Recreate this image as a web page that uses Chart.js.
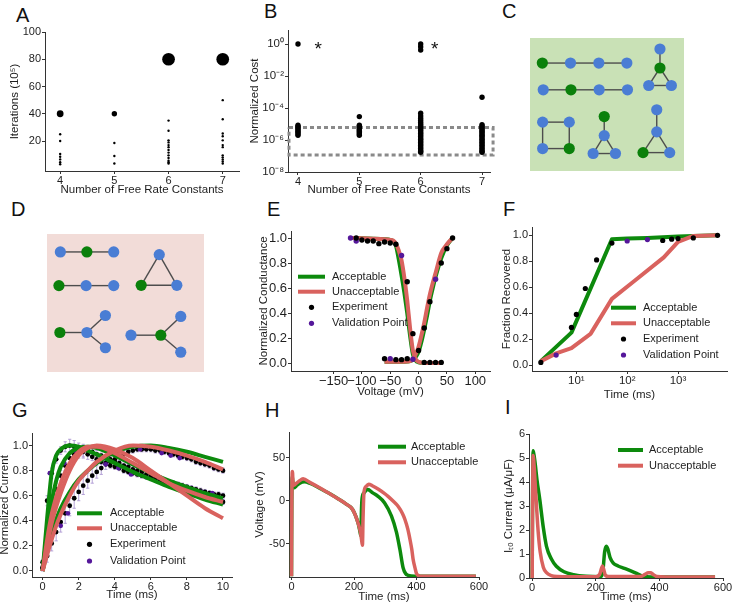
<!DOCTYPE html>
<html><head><meta charset="utf-8">
<script src="https://cdn.jsdelivr.net/npm/chart.js@4.4.1/dist/chart.umd.min.js"></script>
<style>
html,body{margin:0;padding:0;background:#fff;}
body{width:733px;height:605px;position:relative;overflow:hidden;font-family:'Liberation Sans',Arial,Helvetica,sans-serif;}
canvas{position:absolute;left:0;top:0;}
.lbl{position:absolute;font-size:20px;line-height:20px;color:#111;}
</style></head><body>
<div class="lbl" style="left:16px;top:5px">A</div>
<div class="lbl" style="left:264px;top:1px">B</div>
<div class="lbl" style="left:502px;top:1px">C</div>
<div class="lbl" style="left:11px;top:199px">D</div>
<div class="lbl" style="left:267px;top:199px">E</div>
<div class="lbl" style="left:503px;top:199px">F</div>
<div class="lbl" style="left:12px;top:400px">G</div>
<div class="lbl" style="left:265px;top:400px">H</div>
<div class="lbl" style="left:505px;top:397px">I</div>
<script>
// ---------------- DATA ----------------
// A: iterations (10^5) per number of free rate constants; runs = number of fits at that value
const A_rate_ticks = [4,5,6,7];
const A_iter_4 = [40,25,20,10.5,8.5,6.5,4.5,3];
const A_runs_4 = [8,1,1,1,1,1,1,1];
const A_iter_5 = [40,18.5,9,3.5];
const A_runs_5 = [5,1,1,1];
const A_iter_6 = [80,35,27.5,20.5,19,17,15.5,13.5,11.5,9.5,7.5,5.5,4.5,3.5];
const A_runs_6 = [28,1,1,1,1,1,1,1,1,1,1,1,1,1];
const A_iter_7 = [80,50,36,25.5,23.5,20.5,17,15.5,9.5,8,6.5,5,3.5];
const A_runs_7 = [28,1,1,1,1,1,1,1,1,1,1,1,1];
const A_y_ticks = [20,40,60,80,100];

// B: normalized cost
const B_cost_4 = [1.0,8.5e-6,7e-6,6e-6,5e-6,4.2e-6,3.5e-6,2.9e-6,2.4e-6,2e-6];
const B_cost_5 = [2.9e-5,8.5e-6,7e-6,6e-6,5e-6,4.2e-6,3.5e-6,2.9e-6,2.4e-6,2e-6];
const B_cost_6 = [1.0,0.68,0.42,4.7e-5,3.2e-5,2.3e-5,1.7e-5,1.3e-5,1e-5,8e-6,6.3e-6,5e-6,4e-6,3.2e-6,2.6e-6,2.1e-6,1.7e-6,1.35e-6,1.1e-6,9e-7,7.2e-7,5.8e-7,4.7e-7,3.8e-7,3e-7,2.4e-7,2e-7,1.7e-7];
const B_cost_7 = [4.7e-4,9e-6,7.5e-6,6.2e-6,5.1e-6,4.2e-6,3.5e-6,2.9e-6,2.4e-6,2e-6,1.65e-6,1.35e-6,1.1e-6,9e-7,7.2e-7,5.8e-7,4.7e-7,3.8e-7,3e-7,2.4e-7,2e-7,1.7e-7];
const B_star_x = [4.33,6.23];
const B_star_y = [1.0,1.0];
const B_box_x = [3.853,7.18,7.18,3.853,3.853];
const B_box_y = [6e-6,6e-6,1.15e-7,1.15e-7,6e-6];
const B_y_ticks = [1e-8,1e-6,1e-4,1e-2,1];

// C: acceptable topologies (node layout units, kind g = green, b = blue)
const C_node_x = [0.8,2.63,4.47,6.29, 0.86,2.66,4.49,6.33, 8.44,8.44,7.71,9.18, 0.82,2.55,0.82,2.55, 4.82,4.82,4.10,5.55, 8.23,8.23,7.34,9.07];
const C_node_y = [1.62,1.62,1.62,1.62, 3.35,3.35,3.35,3.35, 0.71,1.94,3.07,3.07, 5.44,5.44,7.15,7.15, 5.08,6.31,7.47,7.47, 4.64,6.07,7.41,7.41];
const C_node_kind = ['g','b','b','b', 'b','g','b','b', 'b','g','b','b', 'b','b','b','g', 'g','b','b','b', 'b','b','g','b'];
const C_edges = [[0,1],[1,2],[2,3],[4,5],[5,6],[6,7],[8,9],[9,10],[9,11],[10,11],[12,13],[13,15],[15,14],[14,12],[16,17],[17,18],[17,19],[18,19],[20,21],[21,22],[21,23],[22,23]];

// D: unacceptable topologies
const D_node_x = [0.85,2.54,4.25, 0.76,2.49,4.25, 7.15,6.0,8.27, 0.82,2.54,3.72,3.72, 5.35,7.25,8.52,8.52];
const D_node_y = [1.14,1.14,1.14, 3.28,3.28,3.28, 1.31,3.26,3.26, 6.26,6.26,5.18,7.23, 6.43,6.43,5.24,7.51];
const D_node_kind = ['b','g','b', 'g','b','b', 'b','g','b', 'g','b','b','b', 'b','g','b','b'];
const D_edges = [[0,1],[1,2],[3,4],[4,5],[6,7],[6,8],[7,8],[9,10],[10,11],[10,12],[13,14],[14,15],[14,16]];

// E: normalized conductance vs voltage
const E_exp_inact_v = [-110,-100,-90,-80,-70,-60,-50,-40,-20,-10,10,20,30,40];
const E_exp_inact_g = [1.0,0.984,0.976,0.976,0.955,0.968,0.96,0.95,0.65,0.235,0.005,0.005,0.005,0.005];
const E_exp_act_v = [-60,-40,-30,-20,0,10,20,40,50,60];
const E_exp_act_g = [0.035,0.027,0.027,0.035,0.1,0.28,0.49,0.80,0.915,1.0];
const E_val_v = [-120,-110,-30,-50,-10,30];
const E_val_g = [1.0,0.976,0.86,0.035,0.03,0.67];
const E_inact_v = [-120,-100,-80,-60,-50,-45,-40,-35,-30,-25,-20,-15,-10,-5,0,5,10,20,30,40];
const E_acc_inact = [1.0,0.998,0.995,0.99,0.985,0.975,0.94,0.83,0.7,0.56,0.4,0.22,0.07,0.02,0.005,0.002,0.0,0.0,0.0,0.0];
const E_unacc_inact = [1.0,0.998,0.995,0.99,0.985,0.98,0.955,0.9,0.82,0.68,0.5,0.28,0.1,0.03,0.01,0.003,0.0,0.0,0.0,0.0];
const E_act_v = [-60,-50,-40,-30,-20,-15,-10,-5,0,5,10,15,20,25,30,40,50,60];
const E_acc_act = [0.01,0.01,0.01,0.01,0.012,0.015,0.025,0.05,0.09,0.17,0.27,0.38,0.5,0.6,0.69,0.84,0.94,1.0];
const E_unacc_act = [0.01,0.01,0.01,0.01,0.012,0.015,0.03,0.07,0.13,0.22,0.32,0.44,0.55,0.64,0.72,0.88,0.95,1.0];

// F: fraction recovered vs time (ms)
const F_exp_t = [2,8,10,15,25,50,500,750,1000,2000,6000];
const F_exp_f = [0.02,0.29,0.39,0.59,0.81,0.94,0.96,0.97,0.975,0.98,1.0];
const F_val_t = [4,100,250];
const F_val_f = [0.077,0.956,0.967];
const F_acc_t = [2,8,50,100,250,500,1000,2000,6000];
const F_acc_f = [0.03,0.25,0.97,0.975,0.98,0.985,0.99,0.995,1.0];
const F_unacc_t = [2,4,8,19,50,140,525,1000,2000,6000];
const F_unacc_f = [0.03,0.09,0.13,0.24,0.51,0.65,0.83,0.95,0.995,1.0];

// G: normalized current vs time (ms)
const G_time = [0,0.25,0.5,0.75,1,1.25,1.5,1.75,2,2.25,2.5,2.75,3,3.25,3.5,3.75,4,4.25,4.5,4.75,5,5.25,5.5,5.75,6,6.25,6.5,6.75,7,7.25,7.5,7.75,8,8.25,8.5,8.75,9,9.25,9.5,9.75,10];
const G_exp_fast = [0.07,0.56,0.78,0.89,0.96,0.99,1.00,0.99,0.97,0.95,0.93,0.91,0.89,0.87,0.86,0.84,0.83,0.82,0.80,0.79,0.78,0.77,0.76,0.75,0.74,0.73,0.72,0.71,0.70,0.69,0.68,0.67,0.66,0.65,0.63,0.62,0.61,0.60,0.58,0.57,0.55];
const G_err_fast = [0.02,0.04,0.04,0.03,0.03,0.04,0.05,0.05,0.05,0.05,0.04,0.03,0.03,0.02,0.02,0.02,0.02,0.02,0.02,0.02,0.02,0.02,0.02,0.02,0.02,0.02,0.02,0.02,0.02,0.02,0.02,0.02,0.02,0.02,0.02,0.02,0.02,0.02,0.02,0.02,0.02];
const G_exp_mid = [0.03,0.30,0.50,0.65,0.76,0.84,0.90,0.93,0.95,0.96,0.96,0.95,0.93,0.92,0.90,0.89,0.87,0.86,0.84,0.83,0.81,0.80,0.79,0.77,0.76,0.75,0.74,0.72,0.71,0.70,0.69,0.68,0.67,0.66,0.65,0.64,0.63,0.62,0.61,0.61,0.60];
const G_err_mid = [0.02,0.05,0.05,0.05,0.04,0.04,0.04,0.04,0.05,0.05,0.04,0.03,0.03,0.02,0.02,0.02,0.02,0.02,0.02,0.02,0.02,0.02,0.02,0.02,0.02,0.02,0.02,0.02,0.02,0.02,0.02,0.02,0.02,0.02,0.02,0.02,0.02,0.02,0.02,0.02,0.02];
const G_exp_slow = [0.02,0.12,0.22,0.31,0.39,0.46,0.52,0.58,0.63,0.68,0.72,0.76,0.79,0.82,0.85,0.87,0.89,0.91,0.93,0.95,0.96,0.97,0.97,0.97,0.97,0.96,0.96,0.95,0.94,0.93,0.92,0.91,0.90,0.89,0.87,0.86,0.85,0.84,0.82,0.81,0.80];
const G_err_slow = [0.02,0.05,0.06,0.07,0.08,0.08,0.08,0.08,0.07,0.07,0.06,0.06,0.05,0.05,0.04,0.04,0.03,0.03,0.03,0.02,0.02,0.02,0.02,0.02,0.02,0.02,0.02,0.02,0.02,0.02,0.02,0.02,0.02,0.02,0.02,0.02,0.02,0.02,0.02,0.02,0.02];
const G_val_t = [0.4,1.2,1.8,1.0,1.4,3.5,4.2,4.9,5.4,6.6,7.1,7.6,8.1,8.8,9.4];
const G_val_i = [0.78,0.86,0.96,0.36,0.46,0.85,0.82,0.77,0.97,0.94,0.92,0.90,0.66,0.63,0.62];
const G_model_t = [0,0.25,0.5,0.75,1,1.5,2,2.5,3,4,5,6,7,8,9,10];
const G_acc_1 = [0,0.42,0.78,0.92,0.97,1.0,0.99,0.96,0.93,0.86,0.79,0.73,0.67,0.62,0.57,0.53];
const G_acc_2 = [0,0.3,0.55,0.72,0.83,0.94,0.98,0.99,0.98,0.92,0.85,0.78,0.72,0.67,0.62,0.58];
const G_acc_3 = [0,0.16,0.3,0.41,0.5,0.63,0.73,0.8,0.86,0.95,0.99,1.0,0.98,0.95,0.91,0.87];
const G_unacc_1 = [0,0.25,0.45,0.59,0.7,0.86,0.95,0.99,0.99,0.94,0.86,0.78,0.7,0.64,0.59,0.55];
const G_unacc_2 = [0,0.13,0.25,0.36,0.45,0.6,0.72,0.8,0.87,0.96,1.0,0.99,0.96,0.92,0.87,0.81];
const G_unacc_3 = [0,0.2,0.38,0.51,0.62,0.8,0.92,0.98,1.0,0.97,0.9,0.8,0.7,0.6,0.5,0.42];

// H: action potential voltage (mV) vs time (ms)
const H_acc_t = [0,1,3,5,8,15,25,42,60,90,120,150,175,195,213,218,222,224,226,232,244,260,277,298,320,336,347,357,365,373,395,590];
const H_acc_v = [-88,0,28,17,15,17,20,22,20,14.5,8.5,2,-4,-10,-26,-34,-41,-10,3,9,13,9,5,-2.7,-18,-37,-57,-78,-85,-87,-88,-88];
const H_unacc_t = [0,1,3,5,8,15,25,37,60,90,120,150,175,195,213,220,224,227,229,232,240,247,260,277,295,309,325,341,355,363,372,379,385,389,395,400,408,416,590];
const H_unacc_v = [-88,0,34,20,18,20,23,25.4,21,15,8.5,2,-4,-10,-26,-36,-45,-52,-20,10,17,19.2,17,13.5,9,5,-0.5,-6.6,-15,-22,-33,-45,-57,-68,-78,-85,-87.5,-88,-88];

// I: Ito current vs time (ms)
const I_acc_t = [0,1,3,6,10,15,24,35,45,60,76,100,130,170,215,222,228,233,238,245,255,270,290,310,330,345,360,400,575];
const I_acc_i = [0,3,5.3,5.1,4.7,4.1,3.26,2.1,1.32,0.8,0.49,0.26,0.14,0.07,0.05,0.25,1.1,1.32,1.2,0.85,0.62,0.5,0.4,0.3,0.18,0.08,0.05,0.04,0.04];
const I_unacc_t = [0,1,3,6,10,14,19,25,35,45,60,80,120,200,212,218,221,225,230,240,340,355,365,372,380,392,420,575];
const I_unacc_i = [0,2.5,5.1,4.7,3.8,2.9,1.9,1.1,0.45,0.22,0.1,0.06,0.05,0.05,0.15,0.4,0.5,0.35,0.12,0.06,0.06,0.15,0.22,0.22,0.15,0.06,0.04,0.04];

const LEGEND_LABELS = ['Acceptable','Unacceptable','Experiment','Validation Point'];

// ---------------- STYLE ----------------
const FONT = "'Liberation Sans', Arial, Helvetica, sans-serif";
Chart.defaults.font.family = FONT;
Chart.defaults.color = '#1e1e1e';
const W = 733, H = 605;
const AX = '#333', TXT = '#1e1e1e';
const GREEN = '#0d8a0d', RED = '#d9625e', BLACK = '#000', PURPLE = '#55179a', ERR = '#ad97d2';
const NODE_BLUE = '#4a7dd4', NODE_GREEN = '#0b800b', EDGE = '#4d4d4d';
const TICK = 11, TITLE = 11.5, LEG = 11;

const SUP = {'-':'\u207B','0':'\u2070','1':'\u00B9','2':'\u00B2','3':'\u00B3','4':'\u2074','5':'\u2075','6':'\u2076','7':'\u2077','8':'\u2078','9':'\u2079'};
const pow10 = v => '10' + String(Math.round(Math.log10(v))).split('').map(c => SUP[c]).join('');
const uminus = v => String(v).replace('-', '\u2212');
const plain = v => String(v);
const fix1 = v => v.toFixed(1);

// ---------------- PLUGINS ----------------
const innerLegend = {id:'innerLegend', afterDraw(chart, args, o){
  if (!o || !o.items) return;
  const ctx = chart.ctx; ctx.save();
  ctx.font = LEG + 'px ' + FONT; ctx.textBaseline = 'middle'; ctx.textAlign = 'left';
  o.items.forEach((it, i) => {
    const y = o.ys[i];
    if (it.type === 'line') {
      ctx.strokeStyle = it.color; ctx.lineWidth = 4; ctx.lineCap = 'butt';
      ctx.beginPath(); ctx.moveTo(o.x0, y); ctx.lineTo(o.x1, y); ctx.stroke();
    } else {
      ctx.fillStyle = it.color; ctx.beginPath(); ctx.arc((o.x0 + o.x1) / 2, y, 2.6, 0, 2 * Math.PI); ctx.fill();
    }
    ctx.fillStyle = TXT; ctx.fillText(it.label, o.tx, y);
  });
  ctx.restore();
}};
const areaBg = {id:'areaBg', beforeDatasetsDraw(chart, args, o){
  if (!o || !o.color) return;
  const a = chart.chartArea, ctx = chart.ctx;
  ctx.save(); ctx.fillStyle = o.color; ctx.fillRect(a.left, a.top, a.right - a.left, a.bottom - a.top); ctx.restore();
}};
const errorBars = {id:'errorBars', beforeDatasetsDraw(chart){
  const ctx = chart.ctx, ys = chart.scales.y;
  chart.data.datasets.forEach((ds, i) => {
    if (!ds.errors) return;
    const meta = chart.getDatasetMeta(i);
    ctx.save(); ctx.strokeStyle = ERR; ctx.lineWidth = 0.9;
    meta.data.forEach((el, j) => {
      const v = ds.data[j].y, e = ds.errors[j];
      const y1 = ys.getPixelForValue(v - e), y2 = ys.getPixelForValue(v + e);
      ctx.beginPath();
      ctx.moveTo(el.x, y1); ctx.lineTo(el.x, y2);
      ctx.moveTo(el.x - 1.6, y1); ctx.lineTo(el.x + 1.6, y1);
      ctx.moveTo(el.x - 1.6, y2); ctx.lineTo(el.x + 1.6, y2);
      ctx.stroke();
    });
    ctx.restore();
  });
}};
const asterisks = {id:'asterisks', afterDatasetsDraw(chart){
  const ctx = chart.ctx;
  chart.data.datasets.forEach((ds, i) => {
    if (!ds.asterisk) return;
    const meta = chart.getDatasetMeta(i);
    ctx.save(); ctx.font = '19px ' + FONT; ctx.fillStyle = '#111'; ctx.textAlign = 'center'; ctx.textBaseline = 'alphabetic';
    meta.data.forEach(el => ctx.fillText('*', el.x, el.y + 0.58 * 19));
    ctx.restore();
  });
}};
Chart.register(innerLegend, areaBg, errorBars, asterisks);

// ---------------- HELPERS ----------------
const pts = (xs, ys) => xs.map((x, i) => ({x: x, y: ys[i]}));
const lineDS = (xs, ys, color, extra) => Object.assign({data: pts(xs, ys), showLine: true, borderColor: color, backgroundColor: color, borderWidth: 4, pointRadius: 0, pointHoverRadius: 0, fill: false, tension: 0, cubicInterpolationMode: 'monotone', borderJoinStyle: 'round'}, extra || {});
const dotDS = (xs, ys, color, r, extra) => Object.assign({data: pts(xs, ys), showLine: false, pointRadius: r, pointHoverRadius: r, pointBackgroundColor: color, pointBorderWidth: 0}, extra || {});

function addCanvas(){ const c = document.createElement('canvas'); c.width = W; c.height = H; document.body.appendChild(c); return c; }

function xAxis(f, box){
  return {
    type: f.type || 'linear', position: 'bottom', min: f.min, max: f.max, bounds: 'data', offset: false,
    grid: {display: true, drawOnChartArea: false, drawTicks: true, tickLength: 3, color: AX, lineWidth: 1},
    border: {display: true, color: AX, width: 1},
    ticks: {display: true, font: {size: f.tickSize || TICK}, color: TXT, padding: 0, maxRotation: 0, minRotation: 0, autoSkip: false, callback: f.fmt || plain},
    title: {display: true, text: f.title, font: {size: TITLE}, color: TXT, padding: {top: 0, bottom: H - f.titleY - TITLE * 0.6}},
    afterBuildTicks: s => { s.ticks = f.ticks.map(v => ({value: v})); },
    afterFit: s => { s.height = H - box[3]; }
  };
}
function yAxis(f, box){
  return {
    type: f.type || 'linear', position: 'left', min: f.min, max: f.max, bounds: 'data',
    grid: {display: true, drawOnChartArea: false, drawTicks: true, tickLength: 3, color: AX, lineWidth: 1},
    border: {display: true, color: AX, width: 1},
    ticks: {display: true, font: {size: f.tickSize || TICK}, color: TXT, padding: 1, autoSkip: false, callback: f.fmt || plain},
    title: {display: true, text: f.title, font: {size: TITLE}, color: TXT, padding: {top: f.titleX - TITLE * 0.6, bottom: 0}},
    afterBuildTicks: s => { s.ticks = f.ticks.map(v => ({value: v})); },
    afterFit: s => { s.width = box[0]; }
  };
}
function makePlot(f){
  return new Chart(addCanvas(), {
    type: 'scatter',
    data: {datasets: f.datasets},
    options: {
      responsive: false, animation: false, devicePixelRatio: 1, events: [],
      layout: {autoPadding: false, padding: {left: 0, top: f.box[1], right: W - f.box[2], bottom: 0}},
      scales: {x: xAxis(f.x, f.box), y: yAxis(f.y, f.box)},
      plugins: {legend: {display: false}, tooltip: {enabled: false}, innerLegend: f.legend || {}}
    }
  });
}
function makeNet(f){
  const ds = f.edges.map(e => ({data: [{x: f.nx[e[0]], y: f.ny[e[0]]}, {x: f.nx[e[1]], y: f.ny[e[1]]}], showLine: true, borderColor: EDGE, borderWidth: 1.4, pointRadius: 0, order: 2}));
  ds.push({data: pts(f.nx, f.ny), pointRadius: 5.6, pointHoverRadius: 5.6, pointBorderWidth: 0, pointBackgroundColor: f.kind.map(k => k === 'g' ? NODE_GREEN : NODE_BLUE), order: 1});
  return new Chart(addCanvas(), {
    type: 'scatter', data: {datasets: ds},
    options: {
      responsive: false, animation: false, devicePixelRatio: 1, events: [],
      layout: {autoPadding: false, padding: {left: f.box[0], top: f.box[1], right: W - f.box[2], bottom: H - f.box[3]}},
      scales: {x: {display: false, min: 0, max: 10}, y: {display: false, min: 0, max: f.ymax, reverse: true}},
      plugins: {legend: {display: false}, tooltip: {enabled: false}, areaBg: {color: f.bg}}
    }
  });
}
const legend4 = (x0, x1, tx, ys) => ({x0, x1, tx, ys, items: [
  {type: 'line', color: GREEN, label: LEGEND_LABELS[0]},
  {type: 'line', color: RED, label: LEGEND_LABELS[1]},
  {type: 'dot', color: BLACK, label: LEGEND_LABELS[2]},
  {type: 'dot', color: PURPLE, label: LEGEND_LABELS[3]}]});
const legend2 = (x0, x1, tx, ys) => ({x0, x1, tx, ys, items: [
  {type: 'line', color: GREEN, label: LEGEND_LABELS[0]},
  {type: 'line', color: RED, label: LEGEND_LABELS[1]}]});

// ---------------- PANEL A ----------------
(function(){
  const xs = [], ys = [], runs = [];
  [[4, A_iter_4, A_runs_4], [5, A_iter_5, A_runs_5], [6, A_iter_6, A_runs_6], [7, A_iter_7, A_runs_7]].forEach(g => {
    g[1].forEach((v, i) => { xs.push(g[0]); ys.push(v); runs.push(g[2][i]); });
  });
  makePlot({
    box: [45, 32, 239, 171],
    x: {min: 3.72, max: 7.3, ticks: A_rate_ticks, title: 'Number of Free Rate Constants', titleY: 190},
    y: {min: -2, max: 100, ticks: A_y_ticks, title: 'Iterations (10\u2075)', titleX: 15},
    datasets: [dotDS(xs, ys, BLACK, c => 1.2 * Math.sqrt(runs[c.dataIndex]))]
  });
})();

// ---------------- PANEL B ----------------
(function(){
  const xs = [], ys = [];
  [[4, B_cost_4], [5, B_cost_5], [6, B_cost_6], [7, B_cost_7]].forEach(g => g[1].forEach(v => { xs.push(g[0]); ys.push(v); }));
  makePlot({
    box: [288, 30, 490, 172],
    x: {min: 3.837, max: 7.13, ticks: A_rate_ticks, title: 'Number of Free Rate Constants', titleY: 190},
    y: {type: 'logarithmic', min: 1e-8, max: 7.5, ticks: B_y_ticks, fmt: pow10, title: 'Normalized Cost', titleX: 255, tickSize: 11.5},
    datasets: [
      dotDS(xs, ys, BLACK, 2.7, {order: 1}),
      lineDS(B_box_x, B_box_y, '#8a8a8a', {borderWidth: 3, borderDash: [4, 3], cubicInterpolationMode: 'default', clip: false, order: 2, borderJoinStyle: 'miter'}),
      dotDS(B_star_x, B_star_y, BLACK, 0, {asterisk: true, order: 0})
    ]
  });
})();

// ---------------- PANEL C / D ----------------
makeNet({box: [530, 38, 684, 171], ymax: 8.6, nx: C_node_x, ny: C_node_y, kind: C_node_kind, edges: C_edges, bg: '#c9e1b6'});
makeNet({box: [47, 234, 204, 372], ymax: 8.77, nx: D_node_x, ny: D_node_y, kind: D_node_kind, edges: D_edges, bg: '#f2dcd8'});

// ---------------- PANEL E ----------------
makePlot({
  box: [291, 231, 490, 371],
  x: {min: -225, max: 126, ticks: [-150,-100,-50,0,50,100], fmt: uminus, title: 'Voltage (mV)', titleY: 392, tickSize: 13},
  y: {min: -0.064, max: 1.056, ticks: [0,0.2,0.4,0.6,0.8,1.0], fmt: fix1, title: 'Normalized Conductance', titleX: 264, tickSize: 13},
  datasets: [
    dotDS(E_exp_inact_v, E_exp_inact_g, BLACK, 2.7, {order: 0}),
    dotDS(E_exp_act_v, E_exp_act_g, BLACK, 2.7, {order: 0}),
    dotDS(E_val_v, E_val_g, PURPLE, 2.7, {order: 0}),
    lineDS(E_act_v, E_unacc_act, RED, {order: 1}),
    lineDS(E_inact_v, E_unacc_inact, RED, {order: 1}),
    lineDS(E_act_v, E_acc_act, GREEN, {order: 2}),
    lineDS(E_inact_v, E_acc_inact, GREEN, {order: 2})
  ],
  legend: legend4(298, 325, 332, [276.7, 291.7, 307.3, 323.3])
});

// ---------------- PANEL F ----------------
makePlot({
  box: [532, 227, 727, 371],
  x: {type: 'logarithmic', min: 1.34, max: 9200, ticks: [10,100,1000], fmt: pow10, title: 'Time (ms)', titleY: 395, tickSize: 11.5},
  y: {min: -0.046, max: 1.064, ticks: [0,0.2,0.4,0.6,0.8,1.0], fmt: fix1, title: 'Fraction Recovered', titleX: 507},
  datasets: [
    dotDS(F_exp_t, F_exp_f, BLACK, 2.6, {order: 0}),
    dotDS(F_val_t, F_val_f, PURPLE, 2.6, {order: 0}),
    lineDS(F_unacc_t, F_unacc_f, RED, {order: 1, cubicInterpolationMode: 'default'}),
    lineDS(F_acc_t, F_acc_f, GREEN, {order: 2, cubicInterpolationMode: 'default'})
  ],
  legend: legend4(611, 636, 643, [307.7, 323.3, 339, 355])
});

// ---------------- PANEL G ----------------
makePlot({
  box: [32, 433, 232, 577],
  x: {min: -0.59, max: 10.5, ticks: [0,2,4,6,8,10], title: 'Time (ms)', titleY: 595},
  y: {min: -0.048, max: 1.10, ticks: [0,0.2,0.4,0.6,0.8,1.0], fmt: fix1, title: 'Normalized Current', titleX: 5},
  datasets: [
    dotDS(G_time, G_exp_fast, BLACK, 2.4, {errors: G_err_fast, order: 6}),
    dotDS(G_time, G_exp_mid, BLACK, 2.4, {errors: G_err_mid, order: 6}),
    dotDS(G_time, G_exp_slow, BLACK, 2.4, {errors: G_err_slow, order: 6}),
    dotDS(G_val_t, G_val_i, PURPLE, 2.4, {order: 5}),
    lineDS(G_model_t, G_acc_1, GREEN, {order: 2}),
    lineDS(G_model_t, G_acc_2, GREEN, {order: 2}),
    lineDS(G_model_t, G_acc_3, GREEN, {order: 2}),
    lineDS(G_model_t, G_unacc_1, RED, {order: 1}),
    lineDS(G_model_t, G_unacc_2, RED, {order: 1}),
    lineDS(G_model_t, G_unacc_3, RED, {order: 1})
  ],
  legend: legend4(77, 102, 110, [513.3, 528.3, 544.3, 561])
});

// ---------------- PANEL H ----------------
makePlot({
  box: [289, 432, 479, 577],
  x: {min: -8, max: 600, ticks: [0,200,400,600], title: 'Time (ms)', titleY: 597},
  y: {min: -89, max: 80, ticks: [-50,0,50], title: 'Voltage (mV)', titleX: 260},
  datasets: [
    lineDS(H_unacc_t, H_unacc_v, RED, {order: 1, borderWidth: 3.5}),
    lineDS(H_acc_t, H_acc_v, GREEN, {order: 2, borderWidth: 3.5})
  ],
  legend: legend2(378, 406, 411, [446.7, 462.3])
});

// ---------------- PANEL I ----------------
makePlot({
  box: [529, 434, 723, 578],
  x: {min: -10, max: 600, ticks: [0,200,400,600], title: 'Time (ms)', titleY: 597},
  y: {min: 0, max: 6, ticks: [0,1,2,3,4,5,6], title: 'I\u209C\u2092 Current (\u03BCA/\u03BCF)', titleX: 509},
  datasets: [
    lineDS(I_unacc_t, I_unacc_i, RED, {order: 1, borderWidth: 3.5}),
    lineDS(I_acc_t, I_acc_i, GREEN, {order: 2, borderWidth: 3.5})
  ],
  legend: legend2(618, 643, 649, [450, 465.7])
});
</script></body></html>
